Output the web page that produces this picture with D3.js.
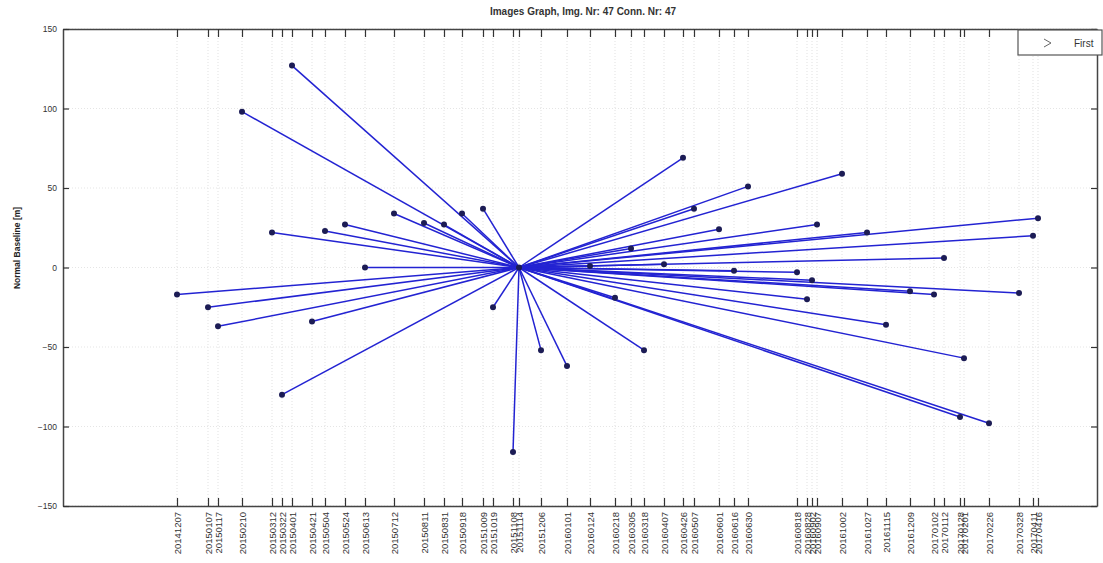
<!DOCTYPE html>
<html>
<head>
<meta charset="utf-8">
<script src="https://cdn.jsdelivr.net/npm/d3@7"></script>
<style>
  body { margin: 0; background: #fff; }
  svg { display: block; font-family: "Liberation Sans", Arial, sans-serif; }
</style>
</head>
<body>
<svg id="chart" width="1103" height="563"></svg>
<script>
// acquisition dates (yyyymmdd) and normal baselines [m]
const dates = ["20141207","20150107","20150117","20150210","20150312","20150322","20150401","20150421",
  "20150504","20150524","20150613","20150712","20150811","20150831","20150918","20151009","20151019",
  "20151108","20151114","20151206","20160101","20160124","20160218","20160305","20160318","20160407",
  "20160426","20160507","20160601","20160616","20160630","20160818","20160828","20160902","20160907",
  "20161002","20161027","20161115","20161209","20170102","20170112","20170128","20170201","20170226",
  "20170328","20170411","20170416"];
const baselines = [-17, -25, -37, 98, 22, -80, 127, -34,
  23, 27, 0, 34, 28, 27, 34, 37, -25,
  -116, 0, -52, -62, 1, -19, 12, -52, 2,
  69, 37, 24, -2, 51, -3, -20, -8, 27,
  59, 22, -36, -15, -17, 6, -94, -57, -98,
  -16, 20, 31];
const master = "20151114";
const xLimits = ["20140815", "20170614"];
const yTicks = [-150, -100, -50, 0, 50, 100, 150];
const titleText = "Images Graph, Img. Nr: 47 Conn. Nr: 47";
const yLabel = "Normal Baseline [m]";
const legendLabel = "First";

const parse = d3.timeParse("%Y%m%d");
const fmt = d3.timeFormat("%Y%m%d");

var svg = d3.select("#chart");
var width = 1103, height = 563;
var pLeft = 63, pRight = 1097, pTop = 29, pBottom = 506;

svg.append("rect").attr("width", width).attr("height", height).attr("fill", "#fff");

var x = d3.scaleTime()
  .domain(xLimits.map(parse))
  .range([pLeft, pRight]);
var y = d3.scaleLinear()
  .domain([-150, 150])
  .range([pBottom, pTop]);

var points = dates.map((d, i) => ({ date: parse(d), b: baselines[i] }));
var m = points.find(p => fmt(p.date) === master);

// grid
svg.append("g")
  .selectAll("line")
  .data(points)
  .enter()
  .append("line")
  .attr("x1", d => x(d.date)).attr("x2", d => x(d.date))
  .attr("y1", pTop).attr("y2", pBottom)
  .attr("stroke", "#d9d9d9")
  .attr("stroke-width", 0.8)
  .attr("stroke-dasharray", "1,2");

svg.append("g")
  .selectAll("line")
  .data(yTicks)
  .enter()
  .append("line")
  .attr("x1", pLeft).attr("x2", pRight)
  .attr("y1", d => y(d)).attr("y2", d => y(d))
  .attr("stroke", "#dedede")
  .attr("stroke-width", 0.8)
  .attr("stroke-dasharray", "1,2");

// axes
var xb = svg.append("g")
  .attr("transform", "translate(0," + pBottom + ")")
  .call(d3.axisBottom(x).tickValues(points.map(p => p.date)).tickFormat(fmt).tickSizeInner(-8).tickSizeOuter(0));
xb.selectAll("text")
  .attr("transform", "rotate(-90)")
  .attr("text-anchor", "end")
  .attr("x", -6)
  .attr("y", 0)
  .attr("dy", "0.35em")
  .attr("font-size", 9.5)
  .attr("fill", "#333");

svg.append("g")
  .attr("transform", "translate(0," + pTop + ")")
  .call(d3.axisTop(x).tickValues(points.map(p => p.date)).tickFormat("").tickSizeInner(-8).tickSizeOuter(0));

var yl = svg.append("g")
  .attr("transform", "translate(" + pLeft + ",0)")
  .call(d3.axisLeft(y).tickValues(yTicks).tickSizeInner(-6).tickSizeOuter(0).tickPadding(6));
yl.selectAll("text").attr("font-size", 8.5).attr("fill", "#333");

svg.append("g")
  .attr("transform", "translate(" + pRight + ",0)")
  .call(d3.axisRight(y).tickValues(yTicks).tickFormat("").tickSizeInner(-6).tickSizeOuter(0));

svg.selectAll(".domain").attr("stroke", "#444").attr("stroke-width", 1.5);
svg.selectAll(".tick line").attr("stroke", "#333").attr("stroke-width", 1.2);

// connections from master
svg.append("g")
  .selectAll("line")
  .data(points.filter(p => p !== m))
  .enter()
  .append("line")
  .attr("x1", x(m.date)).attr("y1", y(m.b))
  .attr("x2", d => x(d.date)).attr("y2", d => y(d.b))
  .attr("stroke", "#2323d2")
  .attr("stroke-width", 1.5);

svg.append("g")
  .selectAll("circle")
  .data(points)
  .enter()
  .append("circle")
  .attr("cx", d => x(d.date))
  .attr("cy", d => y(d.b))
  .attr("r", 3)
  .attr("fill", "#1c1c55");

// title and labels
svg.append("text")
  .attr("x", 583).attr("y", 15)
  .attr("text-anchor", "middle")
  .attr("font-size", 10)
  .attr("font-weight", "bold")
  .attr("fill", "#333")
  .text(titleText);

svg.append("text")
  .attr("transform", "translate(20,248) rotate(-90)")
  .attr("text-anchor", "middle")
  .attr("font-size", 8.5)
  .attr("font-weight", "bold")
  .attr("fill", "#222")
  .text(yLabel);

// legend
var lg = svg.append("g").attr("transform", "translate(1018,30)");
lg.append("rect").attr("width", 84).attr("height", 25)
  .attr("fill", "#fff").attr("stroke", "#555").attr("stroke-width", 1.2);
lg.append("path").attr("d", "M26,9 L33,13 L26,17")
  .attr("fill", "none").attr("stroke", "#666").attr("stroke-width", 1);
lg.append("text").attr("x", 56).attr("y", 17)
  .attr("font-size", 10).attr("fill", "#333").text(legendLabel);
</script>
</body>
</html>
